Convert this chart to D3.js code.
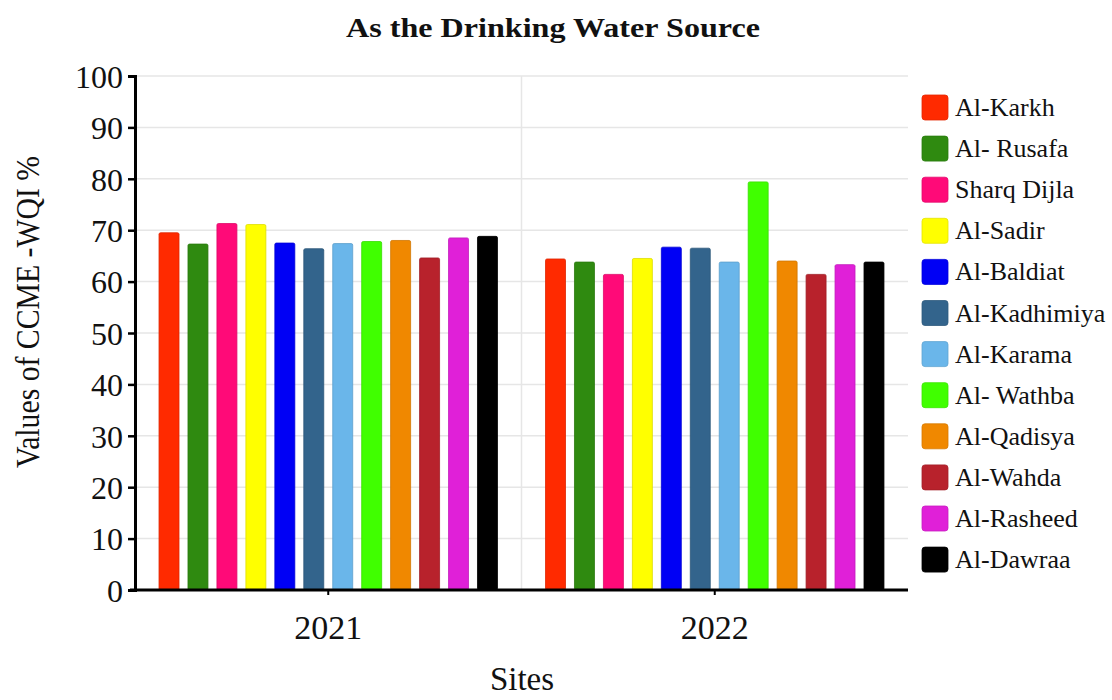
<!DOCTYPE html>
<html>
<head>
<meta charset="utf-8">
<script src="https://cdn.jsdelivr.net/npm/d3@7"></script>
<style>
  html, body { margin: 0; padding: 0; background: #fff; }
  svg { display: block; }
  text { font-family: "Liberation Serif", "DejaVu Serif", serif; fill: #111; }
</style>
</head>
<body>
<svg id="chart" width="1112" height="700"></svg>
<script>
const years = ["2021", "2022"];
const sites = ["Al-Karkh", "Al- Rusafa", "Sharq Dijla", "Al-Sadir", "Al-Baldiat", "Al-Kadhimiya",
               "Al-Karama", "Al- Wathba", "Al-Qadisya", "Al-Wahda", "Al-Rasheed", "Al-Dawraa"];
const values2021 = [69.5, 67.3, 71.3, 71.1, 67.5, 66.4, 67.4, 67.8, 68.0, 64.6, 68.5, 68.8];
const values2022 = [64.4, 63.8, 61.4, 64.5, 66.7, 66.5, 63.8, 79.4, 64.0, 61.4, 63.3, 63.8];
const siteColors = ["#ff2a00", "#2f8a10", "#ff0a78", "#ffff00", "#0000f5", "#33648c",
                    "#6ab6ea", "#40ff00", "#f08800", "#b8222c", "#e020d8", "#000000"];
const yTicks = [0, 10, 20, 30, 40, 50, 60, 70, 80, 90, 100];

const seriesByYear = { "2021": values2021, "2022": values2022 };
const rows = [];
years.forEach(y => sites.forEach((s, i) => rows.push({ year: y, site: s, value: seriesByYear[y][i] })));

const svg = d3.select("#chart");
const m = { left: 135, right: 908, top: 76, bottom: 590 };

const x0 = d3.scaleBand().domain(years).range([m.left, m.right]).paddingInner(0).paddingOuter(0);
const x1 = d3.scaleBand().domain(sites).range([0, x0.bandwidth()]).paddingInner(0.31).paddingOuter(0.83);
const y = d3.scaleLinear().domain([0, 100]).range([m.bottom, m.top]);
const color = d3.scaleOrdinal().domain(sites).range(siteColors);

// grid
svg.append("g").selectAll("line").data(yTicks.filter(t => t > 0)).join("line")
  .attr("x1", m.left).attr("x2", m.right)
  .attr("y1", d => y(d)).attr("y2", d => y(d))
  .attr("stroke", "#e6e6e6").attr("stroke-width", 1.5);
svg.append("line")
  .attr("x1", x0("2022")).attr("x2", x0("2022"))
  .attr("y1", m.top).attr("y2", m.bottom)
  .attr("stroke", "#e6e6e6").attr("stroke-width", 1.5);

// bars
svg.append("g").selectAll("rect").data(rows).join("rect")
  .attr("x", d => x0(d.year) + x1(d.site))
  .attr("width", x1.bandwidth())
  .attr("y", d => y(d.value))
  .attr("height", d => y(0) - y(d.value))
  .attr("rx", 1.5)
  .attr("fill", d => color(d.site))
  .attr("stroke", d => d3.color(color(d.site)).darker(0.4))
  .attr("stroke-width", 0.8);

// y axis
const yAxis = svg.append("g").attr("transform", `translate(${m.left},0)`)
  .call(d3.axisLeft(y).tickValues(yTicks).tickSize(7).tickPadding(5));
yAxis.select(".domain").attr("stroke", "#000").attr("stroke-width", 3);
yAxis.selectAll(".tick line").attr("stroke", "#000").attr("stroke-width", 2.5);
yAxis.selectAll(".tick text").style("font-family", "'Liberation Serif', serif")
  .style("font-size", "32px").attr("fill", "#111").attr("dy", "0.35em");

// x axis
const xAxis = svg.append("g").attr("transform", `translate(0,${m.bottom})`)
  .call(d3.axisBottom(x0).tickSize(5).tickSizeOuter(0).tickPadding(20));
xAxis.select(".domain").attr("stroke", "#000").attr("stroke-width", 3)
  .attr("d", `M${m.left - 5},0H${m.right}`);
xAxis.selectAll(".tick line").attr("stroke", "#000").attr("stroke-width", 2);
xAxis.selectAll(".tick text").style("font-family", "'Liberation Serif', serif")
  .style("font-size", "34px").attr("fill", "#111");

// title
svg.append("text").attr("x", 553).attr("y", 37).attr("text-anchor", "middle")
  .attr("textLength", 414).attr("lengthAdjust", "spacingAndGlyphs")
  .style("font-size", "27px").style("font-weight", "bold").text("As the Drinking Water Source");

// axis titles
svg.append("text").attr("transform", "translate(39,312) rotate(-90)").attr("text-anchor", "middle")
  .attr("textLength", 312).attr("lengthAdjust", "spacingAndGlyphs")
  .style("font-size", "34px").text("Values of CCME -WQI %");
svg.append("text").attr("x", 522).attr("y", 690).attr("text-anchor", "middle")
  .style("font-size", "33px").text("Sites");

// legend
const leg = svg.append("g").selectAll("g").data(sites).join("g")
  .attr("transform", (d, i) => `translate(922,${95 + i * 41.1})`);
leg.append("rect").attr("width", 26).attr("height", 25).attr("rx", 3)
  .attr("fill", d => color(d))
  .attr("stroke", d => d3.color(color(d)).darker(0.3)).attr("stroke-width", 0.8);
leg.append("text").attr("x", 33).attr("y", 21)
  .style("font-size", "26px").text(d => d);
</script>
</body>
</html>
